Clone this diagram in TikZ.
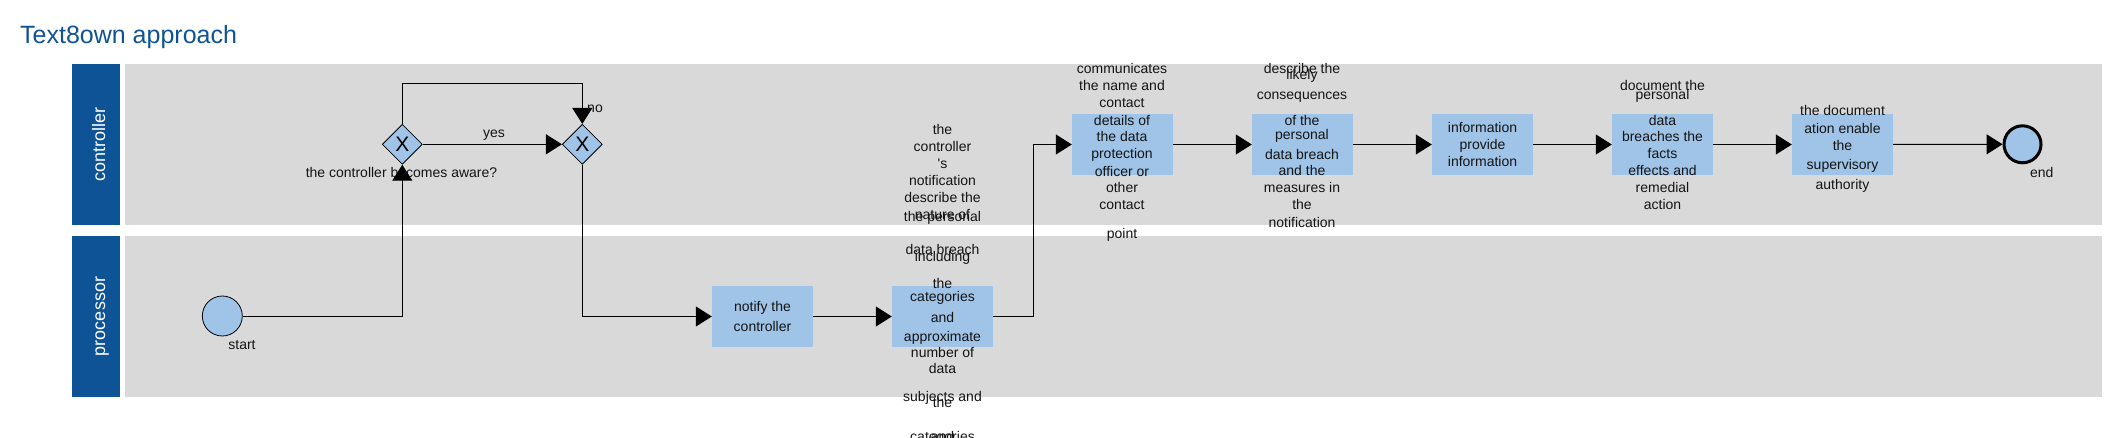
\documentclass[tikz,border=0pt]{standalone}
\usepackage{fontspec}
\setmainfont{Liberation Sans}
\usetikzlibrary{arrows.meta,shapes.geometric}
\definecolor{hdr}{RGB}{14,83,150}
\definecolor{lanegray}{RGB}{217,217,217}
\definecolor{boxblue}{RGB}{159,196,232}
\definecolor{txtc}{RGB}{20,20,20}
\begin{document}
\begin{tikzpicture}[x=1pt,y=-1pt,
  lanehdr/.style={rectangle, fill=hdr, draw=none, inner sep=0pt, anchor=north west, minimum width=48pt, minimum height=161pt},
  laneband/.style={rectangle, fill=lanegray, draw=none, inner sep=0pt, anchor=north west, minimum width=1976.7pt, minimum height=161pt},
  lanetxt/.style={rotate=90, anchor=base, text=white, inner sep=0pt, font=\fontsize{18}{18}\selectfont},
  task/.style={rectangle, fill=boxblue, draw=none, minimum width=101pt, minimum height=61pt, inner sep=0pt},
  gw/.style={diamond, fill=boxblue, draw=black, line width=0.8pt, minimum width=40pt, minimum height=40pt, inner sep=0pt, aspect=1, font=\fontsize{21}{21}\selectfont},
  startev/.style={circle, fill=boxblue, draw=black, line width=0.8pt, minimum size=40pt, inner sep=0pt},
  endev/.style={circle, fill=boxblue, draw=black, line width=3pt, minimum size=37pt, inner sep=0pt},
  txt/.style={font=\fontsize{14}{17}\selectfont, text=txtc, inner sep=0pt, text height=10pt, text depth=0pt, anchor=center},
  flow/.style={draw=black, line width=1pt, -{Triangle[length=16pt,width=20pt]}}
]
\useasboundingbox (0,0) rectangle (2119,438);

% title
\node[anchor=base west, inner sep=0pt, text=hdr, font=\fontsize{25}{30}\selectfont] (title) at (20,44) {Text8own approach};

% lanes
\node[lanehdr] (hc) at (72,64) {};
\node[laneband] (lc) at (125,64) {};
\node[lanehdr] (hp) at (72,236) {};
\node[laneband] (lp) at (125,236) {};
\node[lanetxt] (hct) at (105,144.5) {controller};
\node[lanetxt] (hpt) at (105,316.5) {processor};

% flow objects
\node[startev] (start) at (222.3,316) {};
\node[gw] (g1) at (402.3,144.3) {X};
\node[gw] (g2) at (582.3,144.3) {X};
\node[task] (notify) at (762.5,316.5) {};
\node[task] (b2) at (942.5,316.5) {};
\node[task] (b3) at (1122.5,144.5) {};
\node[task] (b4) at (1302.5,144.5) {};
\node[task] (b5) at (1482.5,144.5) {};
\node[task] (b6) at (1662.5,144.5) {};
\node[task] (b7) at (1842.5,144.5) {};
\node[endev] (end) at (2022.5,144.3) {};

% texts
\node[txt] (lstart) at (242,344) {start};
\node[txt] (lend) at (2041.7,172.3) {end};
\node[txt] (lg1) at (401.5,172.3) {the controller becomes aware?};

\foreach \t/\y [count=\i] in {notify the/306, controller/326}
  \node[txt] (tn\i) at (762.5,\y) {\t};

\foreach \t/\y [count=\i] in {the/130, controller/147, {\textquotesingle s}/164, notification/181, describe the/198, nature of/214.5, the personal/216.5, data breach/249.3, including/256.7, the/283, categories/296, and/317, approximate/336, number of/352, data/368.3, subjects and/396, the/402.7, categories/436.7, and/436.7}
  \node[txt] (tb\i) at (942.5,\y) {\t};

\foreach \t/\y [count=\i] in {communicates/69, the name and/86, contact/103, details of/120.3, the data/137, protection/154, officer or/171.3, other/188, contact/205, point/234}
  \node[txt] (tc\i) at (1122,\y) {\t};

\foreach \t/\y [count=\i] in {describe the/69, likely/75, consequences/94.3, of the/120.3, personal/134.3, data breach/154.3, and the/171, measures in/188, the/205, notification/222.3}
  \node[txt] (td\i) at (1302,\y) {\t};

\foreach \t/\y [count=\i] in {information/128, provide/144.3, information/162}
  \node[txt] (te\i) at (1482.5,\y) {\t};

\foreach \t/\y [count=\i] in {document the/86, personal/94.3, data/120.3, breaches the/137, facts/154, effects and/171, remedial/188, action/205}
  \node[txt] (tf\i) at (1662.5,\y) {\t};

\foreach \t/\y [count=\i] in {the document/111, ation enable/128.3, the/145.3, supervisory/164.3, authority/184.3}
  \node[txt] (tg\i) at (1842.5,\y) {\t};

% connectors
\draw[flow] (start.east) -| (g1.south);
\draw[flow] (g1.east) -- (g2.west);
\node[txt] (lyes) at (494,132.3) {yes};
\draw[flow] (g1.north) -- ++(0,-40) -| (g2.north);
\node[txt] (lno) at (595,107.3) {no};
\draw[flow] (g2.south) |- (notify.west);
\draw[flow] (notify.east) -- (b2.west);
\draw[flow] (b2.east) -- ++(39.8,0) |- (b3.west);
\draw[flow] (b3.east) -- (b4.west);
\draw[flow] (b4.east) -- (b5.west);
\draw[flow] (b5.east) -- (b6.west);
\draw[flow] (b6.east) -- (b7.west);
\draw[flow] (b7.east) -- (end.west);
\end{tikzpicture}
\end{document}
